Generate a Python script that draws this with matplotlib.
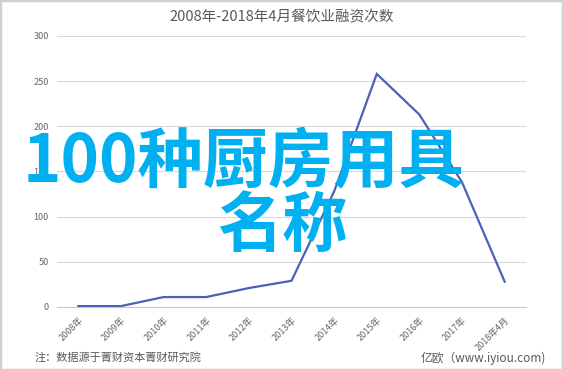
import matplotlib
matplotlib.use("Agg")
import matplotlib.pyplot as plt
from matplotlib.patches import Rectangle

plt.rcParams['font.family'] = ['Noto Sans CJK SC', 'DejaVu Sans']

categories = ["2008年", "2009年", "2010年", "2011年", "2012年", "2013年",
              "2014年", "2015年", "2016年", "2017年", "2018年4月"]
counts = [1, 1, 11, 11, 21, 29, 128, 258, 213, 138, 28]
y_ticks = [0, 50, 100, 150, 200, 250, 300]

title = "2008年-2018年4月餐饮业融资次数"
note = "注：数据源于菁财资本菁财研究院"
source = "亿欧（www.iyiou.com)"
overlay1 = "100种厨房用具"
overlay2 = "名称"

W, H = 563, 370
fig = plt.figure(figsize=(W / 100, H / 100), dpi=100)
fig.patch.set_facecolor("white")

ax = fig.add_axes([57 / W, 1 - 307 / H, (526 - 57) / W, (307 - 36) / H])
x = list(range(len(categories)))
ax.plot(x, counts, color="#4a62b5", lw=1.6, solid_joinstyle="miter", zorder=3)
ax.set_xlim(-0.5, len(categories) - 0.5)
ax.set_ylim(0, 300)
ax.set_yticks(y_ticks)
ax.set_yticklabels([str(v) for v in y_ticks], fontsize=6.5, color="#666666")
ax.set_xticks(x)
ax.set_xticklabels(categories, rotation=45, ha="right", rotation_mode="anchor",
                   fontsize=6.5, color="#666666")
ax.tick_params(axis="both", length=0, pad=6)
ax.grid(axis="y", color="#d9d9d9", lw=0.8)
ax.set_axisbelow(True)
for s in ["top", "right", "left"]:
    ax.spines[s].set_visible(False)
ax.spines["bottom"].set_color("#c8c8c8")
ax.spines["bottom"].set_linewidth(0.8)

fig.text(282 / W, 1 - 17 / H, title, ha="center", va="center", fontsize=10.5, color="#595959")
fig.text(35 / W, 1 - 357 / H, note, ha="left", va="center", fontsize=8, color="#595959")
fig.text(546 / W, 1 - 358 / H, source, ha="right", va="center", fontsize=8.5, color="#595959")

fig.text(244 / W, 1 - 163 / H, overlay1, ha="center", va="center", fontsize=47,
         fontweight="bold", color="#00b0f0", zorder=10)
fig.text(282 / W, 1 - 227 / H, overlay2, ha="center", va="center", fontsize=47,
         fontweight="bold", color="#00b0f0", zorder=10)

fig.patches.append(Rectangle((0, 0), 1, 1, transform=fig.transFigure, fill=False,
                             edgecolor="#d0d0d0", lw=2.5))

fig.savefig("out.png", dpi=100, facecolor="white")
